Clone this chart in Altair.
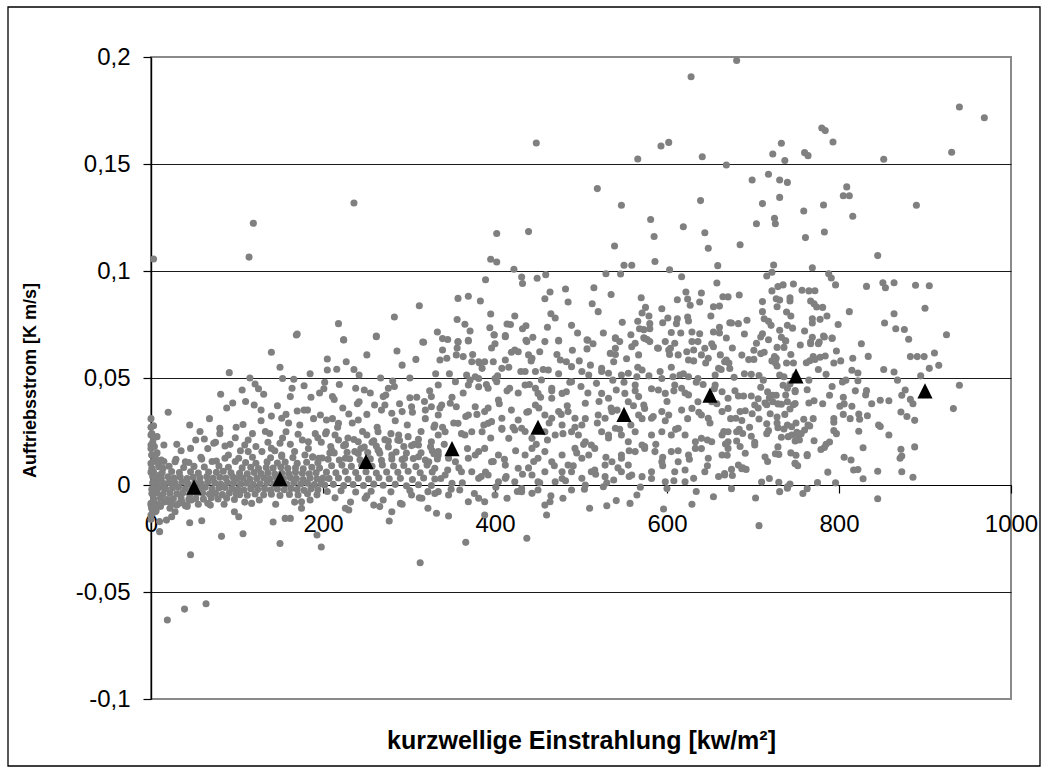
import altair as alt
import pandas as pd

# Klassenmittel des Auftriebsstroms je Einstrahlungsklasse
bin_centres = [50, 150, 250, 350, 450, 550, 650, 750, 900]
bin_means = [-0.001, 0.003, 0.011, 0.017, 0.027, 0.033, 0.042, 0.051, 0.044]

# Einzelmessungen (Einstrahlung, Auftriebsstrom) - schwache Einstrahlung, dichter Kern
points_core_0_100 = [
    (3,-.0065),(11,-.0062),(19,-.0068),(26,-.0064),(35,-.0061),(44,-.0067),(52,-.0063),(61,-.0066),(70,-.0060),(78,-.0065),(88,-.0062),(97,-.0068),
    (1,-.004),(7,-.0037),(14,-.0043),(22,-.0039),(30,-.0041),(37,-.0036),(45,-.0044),(53,-.004),(60,-.0038),(68,-.0042),(75,-.0039),(83,-.0045),(91,-.0037),(99,-.0041),
    (4,-.0015),(10,-.0012),(17,-.0018),(25,-.0014),(32,-.0011),(40,-.0017),(48,-.0013),(56,-.0016),(63,-.001),(71,-.0019),(79,-.0014),(86,-.0012),(94,-.0017),
    (2,.001),(8,.0013),(15,.0007),(21,.0012),(28,.0009),(36,.0014),(43,.0006),(51,.0011),(58,.0008),(66,.0013),(74,.001),(81,.0005),(89,.0012),(96,.0009),
    (5,.0035),(12,.0032),(20,.0038),(27,.0033),(34,.0037),(42,.003),(49,.0036),(57,.0034),(65,.0039),(72,.0031),(80,.0036),(87,.0033),(95,.0038),
    (3,.006),(13,.0057),(24,.0063),(33,.0058),(46,.0062),(55,.0056),(67,.0061),(76,.0059),(84,.0064),(93,.0057),
    (9,.0085),(21,.0088),(38,.0082),(50,.0087),(62,.0084),(79,.0089),(90,.0083),
    (0,-.016),(2,-.013),(1,-.011),(4,-.009),(0,-.0085),(6,-.012),(3,.011),(1,.014),(5,.013),(0,.017),(2,.02),(1,.024),
    (4,.018),(7,.015),(0,.027),(3,.022),(9,.011),(0,.006),(1,-.002),(2,.004),(8,-.009),(11,-.01),(0,.031),
    (6,-.009),(15,-.008),(24,-.009),(33,-.0085),(42,-.01),(55,-.009),(66,-.0085),(85,-.009),(15,.011),(29,.012),(44,.0105),
    (58,.013),(71,.011),(86,.0125),(98,.011),(35,.016),(66,.017),(92,.019),(52,.021),(80,.024),
    (45,.028),(68,.031),(88,.036),(57,.025),(99,.027),(75,.02),(30,.019),
]

points_core_100_330 = [
    (103,-.0045),(112,-.0048),(121,-.0042),(131,-.0046),(140,-.0043),(150,-.0049),(161,-.0044),(171,-.0047),(182,-.0041),(193,-.0046),
    (101,-.002),(108,-.0023),(116,-.0017),(124,-.0021),(132,-.0018),(139,-.0024),(147,-.0019),(155,-.0022),(163,-.0016),(170,-.0021),(178,-.0025),(186,-.0018),(194,-.0022),
    (104,.0005),(111,.0008),(119,.0002),(127,.0006),(135,.0009),(143,.0003),(151,.0007),(158,.0004),(166,.001),(174,.0005),(182,.0008),(190,.0002),(198,.0006),
    (100,.003),(107,.0033),(115,.0027),(123,.0031),(131,.0034),(138,.0028),(146,.0032),(154,.0029),(162,.0035),(169,.003),(177,.0026),(185,.0033),(193,.0029),(200,.0032),
    (103,.0055),(112,.0052),(120,.0058),(128,.0054),(136,.0057),(144,.0051),(152,.0056),(160,.0053),(168,.0059),(176,.0055),(184,.0052),(192,.0057),
    (106,.008),(116,.0083),(125,.0077),(134,.0082),(142,.0079),(151,.0084),(159,.0078),(168,.0081),(177,.0076),(187,.0083),(196,.0079),
    (110,.0105),(122,.0102),(135,.0108),(147,.0103),(156,.0107),(170,.0101),(181,.0106),(194,.0104),
    (118,.013),(139,.0127),(152,.0133),(165,.0128),(188,.0132),(199,.0126),
    (104,.016),(113,.021),(122,.018),(133,.025),(144,.016),(153,.022),(162,.019),(173,.028),(183,.017),(191,.024),(198,.02),
    (109,-.008),(126,-.007),(145,-.009),(167,-.008),(185,-.007),(128,.03),(157,.033),(189,.031),(118,.024),(176,.021),
    (110,.039),(125,.045),(147,.037),(160,.029),(182,.035),(196,.043),(136,.02),(188,.013),(115,.05),(150,.055),(185,.052),
    (205,-.003),(221,-.0027),(238,-.0033),(256,-.0029),(279,-.0032),(301,-.0026),(322,-.0031),
    (202,0),(212,.0003),(224,-.0003),(235,.0002),(247,-.0002),(259,.0004),(270,-.0001),(284,.0003),(297,-.0004),(311,.0001),(326,-.0002),
    (207,.003),(218,.0033),(229,.0027),(241,.0032),(253,.0028),(265,.0034),(277,.0029),(290,.0031),(304,.0026),(317,.0033),(330,.0028),
    (204,.006),(215,.0057),(226,.0063),(238,.0058),(250,.0062),(262,.0056),(274,.0061),(287,.0059),(299,.0064),(313,.0057),(327,.0061),
    (210,.009),(222,.0093),(233,.0087),(245,.0092),(257,.0088),(269,.0094),(282,.0089),(294,.0091),(308,.0086),(321,.0093),
    (206,.012),(219,.0117),(231,.0123),(243,.0118),(255,.0122),(268,.0116),(280,.0121),(292,.0119),(305,.0124),(319,.0117),(333,.0122),
    (213,.015),(228,.0153),(241,.0147),(252,.0152),(266,.0148),(285,.0154),(297,.0149),(314,.0151),(329,.0146),
    (209,.018),(224,.0183),(248,.0177),(262,.0182),(276,.0178),(303,.0184),(325,.0179),
    (218,.021),(236,.0213),(259,.0207),(272,.0212),(289,.0208),(311,.0214),
    (203,.024),(211,.031),(217,.027),(223,.036),(229,.022),(234,.029),(240,.038),(246,.025),(251,.033),(257,.02),(263,.027),
    (268,.035),(273,.042),(279,.024),(284,.03),(289,.038),(294,.018),(298,.028),(304,.034),(309,.041),(314,.025),(319,.031),
    (324,.044),(329,.027),(208,.015),(226,.019),(244,.017),(265,.016),(287,.021),(306,.019),(327,.016),(214,-.006),(232,-.008),
    (251,-.005),(270,-.007),(292,-.009),(312,-.006),(330,-.004),(201,.045),(219,.047),(255,.043),(283,.046),(301,.05),(318,.039),
    (331,.052),(236,.054),(267,.05),(292,.056),(213,.04),
]

# Streuung um den Kern, 0 bis 330 W/m²
points_scatter_0_330 = [
    (3,.1056),(114,.1065),(119,.1223),(236,.1318),(170,.0706),(218,.0754),(224,.0679),(262,.0696),(283,.0785),(312,.0838),(316,.0668),(333,.0715),
    (140,.062),(224,.0678),(262,.0693),(286,.0626),(317,.0667),(308,.0587),(251,.0608),(169,.0701),
    (91,.0525),(205,.0589),(216,.0541),(227,.0576),(205,.0537),(242,.0514),(281,.0486),(153,.0498),(166,.0494),(178,.0464),(202,.048),
    (238,.0452),(248,.0444),(276,.0452),(81,.0424),(106,.0444),(121,.0472),(131,.0424),(164,.0452),(162,.0413),(186,.041),(211,.0413),
    (242,.0389),(270,.0413),(301,.0408),(326,.0413),(20,.034),(95,.0383),(120,.0374),(128,.035),(170,.0346),(178,.035),(140,.0322),
    (152,.0312),(197,.0327),(204,.0304),(218,.0288),(230,.0332),(241,.0304),(260,.0374),(272,.0374),(280,.0335),(292,.0343),(303,.0366),
    (319,.035),(326,.0366),(334,.0327),(3,.0277),(107,.0283),(80,.0265),(7,.0226),(62,.0215),(73,.0195),(86,.0182),(98,.0221),(109,.0187),
    (138,.0241),(150,.0195),(157,.0249),(171,.0237),(183,.0202),(194,.0221),(204,.0249),(214,.0234),(226,.0187),(241,.0202),(251,.0234),
    (264,.0249),(276,.0206),(288,.0234),(299,.0226),(311,.0187),(326,.0202),(334,.0234),(15,.0187),(46,.0171),(1,.014),(0,.0101),
    (12,.0117),(28,.0109),(40,.0109),(59,.0121),(76,.0112),(90,.014),(102,.0125),(113,.0156),(129,.0156),(140,.0171),(152,.014),
    (167,.0156),(179,.014),(195,.0125),(210,.0163),(226,.0125),(237,.0156),(264,.0163),(280,.014),(295,.0125),(311,.0132),(323,.0109),(334,.014),
    (0,.0234),(0,.0187),(1,.0078),(3,-.0078),(0,-.0094),(1,-.0109),(7,-.0094),(5,-.0031),(10,.0047),(14,.0078),(9,.0093),(16,-.0016),
    (20,-.0078),(22,-.0109),(28,-.0125),(30,-.0094),(36,-.0078),(42,-.0094),(47,-.007),(0,-.014),(10,-.0171),(18,-.0164),(24,-.0148),(5,-.0125),
    (10,-.0218),(45,-.0176),(59,-.0167),(40,-.0097),(69,-.0094),(82,-.024),(107,-.0228),(97,-.0125),(102,-.0148),(117,-.0086),(142,-.0173),
    (156,-.0156),(162,-.0156),(150,-.0273),(175,-.0109),(193,-.0234),(198,-.029),(175,-.0078),(226,-.0109),(230,-.0117),(249,-.0062),
    (259,-.0094),(266,-.0101),(280,-.0125),(277,-.0168),(290,-.0086),(303,-.0047),(315,-.0062),(322,-.0109),(332,-.0132),(313,-.0363),
    (46,-.0326),(19,-.0631),(39,-.058),(64,-.0555),
]

# Mittlere Einstrahlung, 330 bis 670 W/m²
points_330_670 = [
    (628,.1908),(448,.1598),(593,.1584),(602,.1601),(566,.1523),(641,.1534),(669,.1495),(519,.1385),(547,.1307),(639,.1329),(581,.1241),
    (619,.1207),(402,.1175),(439,.1184),(585,.1161),(644,.1179),(539,.1117),(648,.1106),(395,.1055),(402,.1042),(550,.1027),(559,.1027),
    (586,.1044),(659,.1025),(422,.1008),(603,.1006),(389,.0959),(431,.0972),(432,.0942),(449,.0966),(459,.0983),(529,.0987),(546,.0986),
    (617,.0973),(658,.0944),(357,.0872),(369,.0882),(464,.0902),(482,.0916),(485,.0855),(515,.0922),(513,.0847),(570,.0875),(612,.0866),
    (622,.0902),(624,.0869),(640,.0897),(638,.0855),(671,.0879),(654,.0833),(661,.0836),(356,.0773),(365,.0751),(395,.0799),(423,.079),
    (394,.0735),(399,.0702),(414,.0752),(412,.0698),(432,.073),(436,.0744),(465,.08),(461,.0737),(489,.0746),(594,.0824),(571,.0804),
    (579,.079),(580,.0754),(566,.0765),(573,.0726),(580,.073),(595,.0758),(612,.0777),(611,.0754),(624,.0785),(625,.0766),(605,.0713),
    (629,.0715),(638,.0707),(654,.0715),(661,.0737),(558,.0702),(540,.0688),(573,.0688),(508,.0676),(474,.0676),(436,.0676),(369,.0676),
    (357,.0668),(339,.0684),(669,.0687),(673,.0758),
    (357,.067),(369,.0673),(339,.0631),(344,.0592),(336,.0584),(355,.0608),(363,.06),(399,.0701),(412,.0693),(423,.0631),(427,.0623),
    (437,.067),(439,.0608),(443,.0592),(452,.0623),(474,.0673),(507,.0678),(507,.0636),(534,.0615),(540,.0639),(545,.067),(540,.0685),
    (559,.0646),(563,.0662),(567,.0608),(574,.0685),(580,.067),(590,.0639),(602,.0631),(609,.0662),(623,.0623),(631,.0631),(636,.067),
    (644,.0639),(654,.0646),(662,.0608),(667,.0576),(660,.0545),(648,.0592),(640,.0608),(625,.0584),(613,.0608),(604,.0639),(598,.067),
    (373,.0576),(381,.0576),(388,.0576),(398,.0576),(385,.0545),(377,.0506),(367,.0514),(369,.0467),(381,.0498),(412,.0584),(408,.0545),
    (400,.0498),(402,.0483),(435,.053),(447,.053),(462,.0537),(476,.0584),(483,.0576),(489,.0553),(501,.053),(509,.0514),(524,.0545),
    (532,.0522),(538,.0576),(547,.0514),(555,.0522),(565,.0506),(571,.0537),(594,.0498),(607,.0506),(615,.0514),(625,.0506),(636,.0498),(656,.0514),
    (354,.0483),(334,.0467),(381,.0459),(392,.0452),(404,.0397),(417,.0452),(435,.0467),(447,.0452),(454,.0491),(450,.0428),(466,.0452),
    (466,.0405),(478,.0428),(483,.0436),(489,.0483),(505,.0382),(518,.0475),(524,.0428),(532,.0405),(541,.0444),(551,.0428),(555,.0389),
    (563,.0467),(567,.0413),(573,.0374),(590,.0444),(598,.0428),(609,.0467),(617,.0452),(625,.0421),(636,.0389),(656,.0467),(664,.0436),
    (671,.0405),(652,.0389),
    (338,.0374),(348,.0382),(355,.0366),(369,.0327),(377,.0366),(388,.0343),(396,.0296),(408,.0312),(419,.035),(427,.0304),(439,.0343),
    (447,.0374),(458,.0327),(466,.0312),(474,.0343),(485,.0343),(493,.0312),(501,.028),(520,.0327),(528,.0312),(536,.0343),(567,.0327),
    (574,.0358),(582,.0312),(594,.0343),(602,.0327),(617,.035),(629,.0358),(640,.0327),(648,.0312),(664,.0343),(671,.0358),
    (330,.028),(342,.0249),(357,.0288),(365,.0234),(373,.0249),(385,.0249),(392,.0288),(408,.0265),(416,.0218),(423,.0257),(431,.0265),
    (443,.0218),(458,.0249),(470,.0234),(478,.028),(489,.0249),(497,.0234),(505,.0202),(512,.0187),(524,.0249),(532,.0234),(540,.0265),
    (547,.0234),(555,.0202),(563,.0249),(571,.0187),(582,.0234),(594,.0249),(605,.0234),(613,.0265),(621,.0234),(633,.0202),(640,.0218),
    (652,.0202),(664,.0234),(671,.0202),
    (334,.0156),(346,.0125),(354,.0109),(369,.0125),(381,.0156),(388,.0171),(396,.0109),(404,.014),(412,.0093),(427,.0078),(435,.014),
    (443,.0171),(450,.0125),(458,.0156),(466,.0109),(478,.014),(485,.0093),(493,.0171),(501,.0125),(509,.014),(516,.0171),(528,.0093),
    (536,.0109),(547,.0125),(555,.0093),(563,.0156),(574,.0171),(586,.0156),(594,.0109),(605,.0156),(613,.0109),(625,.014),(633,.0171),
    (648,.0125),(664,.014),(671,.0171),
    (330,.0078),(342,.0047),(350,.0008),(361,.0062),(373,.0062),(381,.0031),(392,.0047),(404,.0015),(412,.0031),(423,.0015),(431,-.0016),
    (443,.0047),(450,.0015),(458,.0062),(470,.0015),(478,.0062),(489,.0062),(501,.0031),(512,.0062),(528,.0039),(538,.0023),(547,.0062),
    (559,.0047),(571,.0039),(582,.0062),(598,.0015),(609,.0062),(621,.0015),(631,.0031),(644,.0062),(667,.0047),
    (334,-.0031),(346,-.0047),(359,-.0023),(369,-.0078),(381,-.0062),(388,-.0078),(400,-.0047),(414,-.0062),(431,-.0031),(443,-.0039),
    (450,-.0023),(458,-.0094),(464,-.0078),(479,-.0062),(489,-.0023),(505,0),(526,-.0008),(541,-.0073),(557,-.0086),(565,-.0047),
    (600,-.0016),(629,-.009),(654,-.0055),
    (346,-.0145),(388,-.014),(460,-.014),(510,-.0109),(530,-.0097),(596,-.0112),(366,-.0268),(437,-.0249),
    (336,.036),(341,.019),(347,.052),(352,.029),(358,.008),(363,.043),(368,.017),(374,.061),(379,.033),(384,.004),(390,.047),
    (395,.022),(400,.066),(405,.038),(411,.012),(416,.055),(421,.027),(427,.043),(432,.005),(437,.034),(442,.058),(448,.019),
    (453,.041),(458,.067),(463,.029),(469,.009),(474,.052),(479,.024),(484,.037),(490,.063),(495,.015),(500,.046),(505,.031),
    (511,.056),(516,.007),(521,.039),(526,.071),(532,.022),(537,.049),(542,.035),(547,.014),(553,.059),(558,.028),(563,.044),
    (568,.073),(574,.018),(579,.051),(584,.032),(589,.064),(595,.009),(600,.039),(605,.055),(610,.026),(616,.071),(621,.043),
    (626,.012),(631,.058),(637,.034),(642,.047),(647,.021),(652,.066),(658,.038),(663,.054),
    (339,.027),(345,.007),(350,.041),(356,.064),(361,.024),(366,.032),(371,.049),(377,.014),(382,.057),(387,.028),(392,.036),
    (398,.011),(403,.051),(408,.026),(414,.044),(419,.062),(424,.016),(430,.053),(435,.025),(440,.047),(445,.011),(451,.036),
    (456,.054),(461,.021),(466,.044),(472,.061),(477,.033),(482,.002),(487,.048),(493,.027),(498,.058),(503,.019),(508,.043),
    (514,.066),(519,.029),(524,.053),(529,.013),(535,.036),(540,.061),(545,.026),(550,.048),(556,.004),(561,.037),(566,.055),
    (571,.031),(577,.068),(582,.045),(587,.019),(592,.053),(598,.03),(603,.061),(608,.044),(613,.016),(619,.052),(624,.031),
    (629,.067),(634,.048),(640,.017),(645,.057),(650,.029),(655,.045),(661,.071),(666,.025),
    (337,.003),(349,-.002),(362,.001),(376,-.004),(389,.006),(401,-.001),(413,.004),(426,-.003),(439,.008),(452,.001),(465,-.005),
    (478,.003),(491,.009),(504,-.002),(517,.005),(530,.001),(543,.008),(556,.016),(569,-.001),(582,.003),(595,.013),(608,.002),
    (621,.007),(634,-.003),(647,.009),(660,.004),
    (345,.068),(371,.072),(396,.064),(418,.075),(444,.069),(470,.078),(496,.071),(520,.081),(548,.076),(575,.083),(601,.078),
    (627,.084),(651,.079),(665,.088),(383,.086),(458,.087),(535,.089),
]

# Starke Einstrahlung, 670 bis 1000 W/m²
points_670_1000 = [
    (681,.1984),(940,.1766),(969,.1716),(931,.1555),(852,.1522),(780,.1668),(784,.1656),(793,.1603),(733,.1597),(723,.1547),(737,.1516),
    (760,.1553),(764,.1539),(718,.1452),(699,.1425),(731,.1425),(740,.1414),(809,.1393),(805,.1352),(812,.1352),(731,.1344),(711,.1315),
    (782,.1308),(890,.1307),(759,.128),(816,.1256),(725,.1246),(726,.1221),(704,.1221),(783,.1182),(761,.1156),(685,.1123),(845,.1072),
    (724,.1028),(769,.1015),(722,.0994),(716,.0977),(788,.0987),(791,.0967),(796,.0935),(729,.0927),(735,.0935),(747,.0939),(832,.0928),
    (851,.0945),(854,.0922),(864,.0945),(889,.0933),(905,.0931),(684,.0888),(722,.0907),(711,.0857),(731,.0864),(743,.0875),(743,.086),
    (728,.0833),(739,.0808),(765,.0907),(772,.0908),(767,.086),(771,.0847),(774,.0832),(900,.0826),(864,.08),(675,.0757),(683,.0754),
    (713,.0777),(718,.0765),(721,.0746),(740,.0746),(746,.0733),(769,.0777),(769,.0757),(778,.0774),(853,.0757),(866,.073),(876,.0727),
    (690,.0706),(711,.0707),(709,.0692),(731,.0723),(782,.0696),(792,.0687),(881,.0681),(925,.0702),(738,.0674),(767,.0668),(777,.0668),
    (883,.06),(891,.06),(899,.06),(911,.0617),(905,.0545),(916,.0559),(864,.0528),(834,.0601),(816,.0592),(815,.0536),(822,.0523),
    (822,.0487),(804,.0481),(940,.0466),(933,.0357),(877,.0444),(873,.0419),(883,.04),(886,.038),(858,.0394),(848,.0396),(832,.0441),
    (831,.0421),(805,.041),(806,.0379),(801,.0368),(815,.0368),(789,.0419),(805,.033),(823,.0332),(824,.0307),(833,.0324),(872,.0341),
    (888,.0302),(846,.028),(848,.0273),(858,.0234),(823,.0251),(794,.0254),(794,.031),(794,.0293),(828,.0174),(872,.0167),(888,.0178),
    (871,.0125),(873,.0135),(814,.0117),(817,.007),(822,.0072),(828,.0029),(845,.0064),(873,.0062),(886,.0036),(845,-.0064),(703,-.0061),
    (707,-.019),(775,.0011),(763,-.0017),(740,-.0015),(731,-.0031),(730,.0013),(710,.0014),(675,-.0017),
    (785,.019),(789,.0201),(783,.0175),(779,.0166),(760,.0257),(756,.024),(752,.0226),(763,.0142),(750,.0139),(749,.0101),(771,.0207),
    (764,.028),(766,.0276),(759,.0307),(747,.0375),(749,.0381),(743,.0355),(771,.0394),(765,.0383),(763,.0445),(749,.0442),(797,.0626),
    (794,.057),(785,.0517),(784,.0603),(778,.0597),(772,.0587),(766,.0581),(762,.0571),(747,.057),(739,.057),(727,.0592),(728,.0556),
    (726,.0571),(713,.062),(704,.0662),(718,.0679),(738,.0673),(736,.0643),(728,.0643),(755,.0654),(767,.066),(776,.066),(783,.0692),
    (792,.0685),(687,.0607),(695,.0586),(701,.0587),(709,.0614),(672,.057),(673,.0544),(669,.0584),(678,.0503),(698,.0517),(707,.0512),
    (731,.0514),(736,.0506),(735,.0466),(740,.0452),(743,.0472),(749,.0436),(709,.0457),(717,.0435),(723,.0419),(719,.0407),(727,.0419),
    (683,.0416),(689,.0416),(698,.0416),(706,.0403),(714,.0383),(702,.0374),(716,.0375),(723,.0389),(729,.0379),(733,.0377),(740,.0389),
    (685,.0343),(691,.0347),(699,.0333),(680,.0312),(687,.0301),(707,.0308),(720,.0333),(728,.0318),(716,.0286),(737,.033),(750,.029),
    (745,.0272),(740,.028),(671,.0249),(681,.0249),(688,.0241),(684,.026),(698,.0228),(702,.0187),(716,.024),(718,.0254),(729,.0268),
    (733,.0223),(741,.0226),(681,.0206),(691,.0148),(670,.0139),(668,.0192),(687,.0076),(683,.0093),(675,.0073),(692,.0073),
    (714,.0131),(726,.0146),(730,.0143),(744,.015),(749,.0101),(763,.0137),(729,.0178),(736,.0262),(745,.0234),(751,.0246),(749,.0206),
    (667,.0053),(676,.0044),(743,.0005),(740,-.0008),
    (674,.031),(679,.044),(685,.018),(690,.052),(696,.027),(701,.063),(706,.036),(712,.049),(717,.011),(722,.058),(728,.029),
    (733,.069),(738,.042),(744,.061),(749,.051),(754,.021),(760,.072),(765,.049),(770,.031),(776,.054),(781,.038),(786,.079),
    (792,.046),(797,.024),(802,.058),(808,.049),(813,.031),(819,.044),(826,.066),(838,.038),(852,.054),(868,.049),(879,.032),
    (895,.051),(676,.064),(693,.077),(711,.081),(727,.087),(744,.079),(757,.091),(769,.069),(781,.083),(799,.075),(812,.081),
    (688,.008),(719,.003),(752,.009),(787,.006),(806,.013),(758,-.004),(796,.001),(702,.02),(725,.06),(770,.06),
]

y_ticks = [-0.1, -0.05, 0, 0.05, 0.1, 0.15, 0.2]
x_ticks = [0, 200, 400, 600, 800, 1000]

FONT = "Liberation Sans"
W, H = 860, 642

samples = pd.DataFrame(
    points_core_0_100 + points_core_100_330 + points_scatter_0_330 + points_330_670 + points_670_1000,
    columns=["einstrahlung", "auftrieb"],
)
means = pd.DataFrame({"einstrahlung": bin_centres, "auftrieb": bin_means})

x_scale = alt.Scale(domain=[0, 1000], nice=False, zero=False)
y_scale = alt.Scale(domain=[-0.1, 0.2], nice=False, zero=False)

# x-Achse schneidet die y-Achse bei 0
x_axis = alt.Axis(
    values=x_ticks,
    offset=-H / 3,
    grid=False,
    domainColor="black",
    domainWidth=1.2,
    tickColor="black",
    tickWidth=1.2,
    tickSize=8,
    labelFont=FONT,
    labelFontSize=24,
    labelColor="black",
    labelPadding=19,
    labelExpr="format(datum.value, 'd')",
    labelOverlap=False,
    labelFlush=False,
    labelBound=False,
    title="kurzwellige Einstrahlung [kw/m²]",
    titleFont=FONT,
    titleFontSize=25,
    titleFontWeight="bold",
    titleColor="black",
    titleX=W / 2,
    titleY=263,
    titleBaseline="alphabetic",
)

y_axis = alt.Axis(
    values=y_ticks,
    grid=True,
    gridColor={"condition": {"test": "datum.value > 0.19 || datum.value < -0.09", "value": "#8a8a8a"}, "value": "#1a1a1a"},
    gridWidth=1,
    domainColor="black",
    domainWidth=1.4,
    tickColor="black",
    tickWidth=1.2,
    tickSize=8,
    labelFont=FONT,
    labelFontSize=24,
    labelColor="black",
    labelPadding=13,
    labelExpr="replace(replace(format(datum.value, '.2~f'), '.', ','), '\u2212', '-')",
    labelOverlap=False,
    labelFlush=False,
    title="Auftriebsstrom [K m/s]",
    titleFont=FONT,
    titleFontSize=18,
    titleFontWeight="bold",
    titleColor="black",
    titleAngle=270,
    titleX=-121,
    titleY=H / 2 + 2,
    titleBaseline="middle",
    titleAlign="center",
)

frame = alt.Chart(pd.DataFrame({"k": [0]})).mark_rect(
    fill=None, stroke="black", strokeWidth=1.3
).encode(
    x=alt.value(-143), x2=alt.value(889), y=alt.value(-50), y2=alt.value(709)
)

cloud = alt.Chart(samples).mark_circle(size=50, color="#808080", opacity=1).encode(
    x=alt.X("einstrahlung:Q", scale=x_scale, axis=x_axis),
    y=alt.Y("auftrieb:Q", scale=y_scale, axis=y_axis),
)

triangles = alt.Chart(means).mark_point(
    shape="M0,-1L1,1L-1,1Z", filled=True, color="black", size=230, opacity=1
).encode(
    x=alt.X("einstrahlung:Q", scale=x_scale),
    y=alt.Y("auftrieb:Q", scale=y_scale),
)

chart = (
    alt.layer(frame, cloud, triangles)
    .properties(
        width=W,
        height=H,
        autosize=alt.AutoSizeParams(type="none"),
        padding={"left": 151, "top": 57, "right": 39, "bottom": 76},
        background="white",
    )
    .configure_view(stroke="#8a8a8a", strokeWidth=2)
)

chart.save("out.html", embed_options={"renderer": "svg", "actions": False})
